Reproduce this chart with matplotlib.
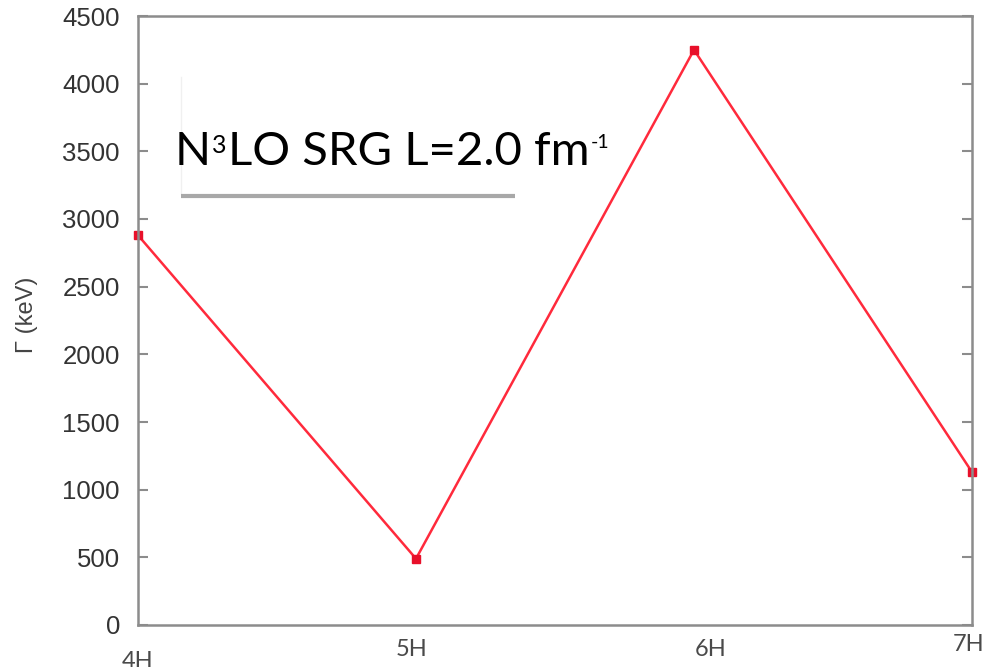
import matplotlib
matplotlib.use('Agg')
import matplotlib.pyplot as plt
import matplotlib.transforms as mtransforms

# datos
nucleos = ['4H', '5H', '6H', '7H']
gamma = [2880, 490, 4250, 1130]
yticks = [0, 500, 1000, 1500, 2000, 2500, 3000, 3500, 4000, 4500]
# etiqueta: (texto, tamano, linea base en px desde arriba)
partes = [('N', 34, 165), ('3', 18, 153), ('LO SRG L=2.0 fm', 34, 165), ('-1', 14, 148)]

W, H = 992, 667
fig = plt.figure(figsize=(W/100, H/100), dpi=100)
ax = fig.add_axes([138/W, 1 - 625/H, (972-138)/W, (625-16)/H])

x = list(range(len(nucleos)))
ax.plot(x, gamma, color='#ff2a3c', lw=1.8, marker='s', ms=6,
        markerfacecolor='#e8102a', markeredgecolor='#e8102a', clip_on=False)

ax.set_xlim(0, 3)
ax.set_ylim(0, 4500)
ax.set_yticks(yticks)
ax.set_xticks(x)
ax.set_xticklabels(nucleos, family='Lato', fontsize=17, color='#4a4a4a')

for s in ax.spines.values():
    s.set_color('#8c8c8c')
    s.set_linewidth(1.8)

ax.tick_params(axis='y', direction='in', length=7, width=1.5, color='#8c8c8c',
               labelsize=18.5, labelcolor='#333333', pad=13, right=True)
ax.tick_params(axis='x', direction='in', length=0, pad=10)
for lab in ax.get_yticklabels():
    lab.set_family('Liberation Sans')

# las etiquetas del eje x no estan alineadas en el original
desp = [(0, -12), (-4, 0), (17, 0), (-3, 5)]
for lab, (dx, dy) in zip(ax.get_xticklabels(), desp):
    lab.set_transform(lab.get_transform() +
                      mtransforms.ScaledTranslation(dx/100, dy/100, fig.dpi_scale_trans))

ax.set_ylabel('\u0393 (keV)', fontsize=17, color='#444444',
              family='Liberation Sans')
ax.yaxis.set_label_coords(-0.12, 0.51)

# recuadro con la etiqueta
fig.patches.append(plt.Rectangle((181/W, 1 - 197/H), (515-181)/W, (197-77)/H,
                                 transform=fig.transFigure, facecolor='white',
                                 edgecolor='none', zorder=3))
fig.lines.append(plt.Line2D([181/W, 181/W], [1 - 77/H, 1 - 194/H],
                            transform=fig.transFigure, color='#f0f0f0', lw=1, zorder=4))
fig.lines.append(plt.Line2D([181/W, 515/W], [1 - 196/H, 1 - 196/H],
                            transform=fig.transFigure, color='#a8a8a8', lw=3,
                            solid_capstyle='butt', zorder=4))

r = fig.canvas.get_renderer()
xpos = 175
for txt, tam, base in partes:
    t = fig.text(xpos/W, 1 - base/H, txt, fontsize=tam, family='Lato',
                 color='black', va='baseline', ha='left', zorder=5)
    xpos = t.get_window_extent(r).x1 + 1

fig.savefig('out.png', dpi=100)
